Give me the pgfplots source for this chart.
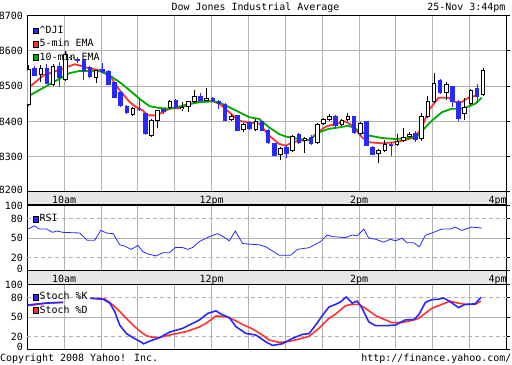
\documentclass[border=0pt]{standalone}
\usepackage{pgfplots}
\pgfplotsset{compat=1.18}
\usepackage{pgfplotstable}
\usepackage{fontspec}
\setmainfont{DejaVu Sans Mono}
\newcommand\yf{\fontsize{10}{12}\selectfont}
\definecolor{yblue}{RGB}{40,40,255}
\definecolor{yred}{RGB}{255,50,50}
\definecolor{ygreen}{RGB}{0,170,0}
\definecolor{ygrid}{RGB}{178,178,178}
\definecolor{yband}{RGB}{230,230,230}

\pgfplotstableread{
t o h l c
1 8447 8561 8445 8549
11 8532 8561 8513 8551
21 8504 8562 8500 8558
31 8518 8600 8515 8590
36 8580 8586 8575 8583
56 8524 8547 8510 8545
86 8419 8440 8414 8437
101 8359 8407 8357 8405
106 8402 8433 8380 8431
116 8438 8461 8436 8459
126 8436 8455 8430 8442
131 8440 8459 8428 8457
136 8456 8490 8452 8473
146 8459 8495 8457 8467
166 8404 8420 8402 8416
176 8376 8396 8370 8393
186 8376 8408 8374 8400
206 8306 8327 8290 8325
216 8315 8362 8313 8360
226 8344 8355 8310 8353
236 8338 8395 8336 8393
241 8393 8409 8391 8407
246 8404 8421 8402 8414
256 8391 8408 8388 8404
261 8404 8424 8402 8415
271 8364 8398 8362 8396
286 8308 8321 8281 8319
291 8315 8346 8313 8336
301 8333 8364 8331 8345
306 8344 8380 8342 8355
311 8355 8369 8353 8364
321 8350 8423 8345 8414
326 8412 8471 8410 8457
331 8455 8537 8453 8510
341 8480 8513 8461 8505
356 8421 8467 8405 8442
361 8448 8492 8446 8490
371 8475 8552 8473 8545
}\upcandles

\pgfplotstableread{
t o h l c
6 8551 8557 8528 8530
16 8552 8562 8505 8507
26 8556 8567 8497 8523
41 8578 8582 8565 8570
46 8573 8576 8516 8542
51 8554 8556 8524 8526
61 8549 8566 8538 8540
66 8543 8545 8502 8504
71 8511 8513 8465 8467
76 8483 8485 8440 8443
81 8445 8447 8421 8423
91 8436 8465 8430 8431
96 8423 8425 8362 8364
111 8434 8436 8420 8426
121 8461 8463 8435 8438
141 8473 8481 8457 8459
151 8467 8469 8455 8457
156 8459 8461 8435 8448
161 8450 8452 8400 8402
171 8417 8419 8372 8374
181 8398 8402 8377 8379
191 8400 8402 8372 8374
196 8376 8378 8336 8338
201 8338 8340 8301 8303
211 8327 8329 8296 8309
221 8363 8367 8336 8338
231 8355 8362 8334 8336
251 8414 8419 8383 8388
266 8414 8416 8364 8366
276 8400 8402 8329 8331
281 8327 8329 8304 8306
296 8335 8341 8301 8331
316 8366 8372 8343 8347
336 8516 8519 8478 8480
346 8499 8501 8442 8456
351 8456 8461 8401 8407
366 8495 8505 8451 8469
}\downcandles

\pgfplotsset{
  ypanel/.style={
    scale only axis, width=479.2bp, xmin=0, xmax=390,
    axis line style={black, line width=1bp},
    xtick={30,60,...,390},
    xmajorgrids, ymajorgrids,
    major grid style={ygrid, line width=1bp},
    tick align=outside,
    xtick style={draw=none, /pgfplots/major tick length=0bp},
    ytick style={black, line width=1bp, /pgfplots/major tick length=3bp},
    ytick pos=right, yticklabel pos=left,
    tick label style={font=\yf},
    yticklabel style={anchor=east, inner sep=0pt, xshift=0bp},
    xticklabel style={anchor=base, inner sep=0pt, yshift=-7bp},
    /pgf/number format/assume math mode=true,
    /pgf/number format/1000 sep={},
    legend image code/.code={\draw[##1, draw=black, line width=0.6bp] (0bp,-2.8bp) rectangle (5.6bp,2.8bp);},
    legend cell align=left,
    legend style={at={(axis description cs:0,1)}, anchor=north west, draw=none, fill=none,
      font=\yf, inner xsep=3.2bp, inner ysep=6bp, row sep=1.2bp, xshift=2bp,
      nodes={inner sep=0.8bp, text height=8bp, text depth=2.5bp}},
  },
  cbar/.style={forget plot, draw=none, mark=none,
    error bars/.cd, y dir=plus, y explicit, error mark=none,
    error bar style={#1}},
}

\begin{document}
\begin{tikzpicture}
\useasboundingbox (0,0) rectangle (512bp,365bp);
\draw[black, line width=1bp, fill=yband] (27.3bp,160bp) rectangle (506.5bp,173bp);
\draw[black, line width=1bp, fill=yband] (27.3bp,80.5bp) rectangle (506.5bp,94bp);

% ---------------- price panel
\begin{axis}[ypanel, at={(27.3bp,173bp)}, anchor=south west, height=176.5bp,
  ymin=8200, ymax=8700, ytick={8200,8300,...,8700},
  yticklabels={\raisebox{4bp}{8200},8300,8400,8500,8600,\raisebox{-8bp}{8700}},
  xticklabels={10am,,,,12pm,,,,2pm,,,,\llap{4pm}},
  legend style={yshift=-3bp}]
\addlegendimage{fill=yblue}
\addlegendentry{\textasciicircum DJI}
\addlegendimage{fill=yred}
\addlegendentry{5-min EMA}
\addlegendimage{fill=ygreen}
\addlegendentry{10-min EMA}
\addplot[forget plot, yred, line width=1.8bp] coordinates {
(2.7,8500)(13,8530)(25.2,8545)(38.7,8562)(50.9,8550)(59,8545)(67.1,8530)(75.2,8488)
(83.3,8455)(88.7,8440)(94.1,8431)(98.1,8417)(104.9,8417)(110.3,8426)(115.7,8436)
(123.8,8438)(131.9,8448)(140.1,8457)(150.9,8457)(156.3,8450)(164.4,8426)(172.5,8402)
(180.6,8396)(188.7,8394)(196.8,8360)(205,8336)(210.4,8331)(215.7,8341)(221.2,8345)
(229.3,8347)(234.7,8364)(242.8,8385)(250.9,8393)(259,8400)(264.4,8388)(272.5,8355)
(277.9,8341)(288.7,8338)(299.6,8341)(310.4,8350)(315.8,8356)(321.2,8383)(326.6,8431)
(334.7,8467)(342.8,8467)(348.2,8455)(353.6,8455)(359,8467)(367.2,8475)};
\addplot[forget plot, ygreen, line width=1.8bp] coordinates {
(2.7,8475)(13,8495)(23.8,8516)(34.6,8537)(42.7,8543)(59,8542)(67.1,8530)(75.2,8511)
(83.3,8488)(91.4,8464)(99.5,8443)(107.6,8438)(115.7,8436)(123.8,8442)(131.9,8450)
(140.1,8454)(150.9,8457)(156.3,8454)(164.4,8440)(172.5,8426)(180.6,8412)(188.7,8407)
(196.8,8383)(205,8364)(210.4,8357)(221.2,8350)(229.3,8347)(237.4,8369)(245.5,8379)
(253.6,8383)(261.6,8388)(269.8,8374)(277.9,8360)(288.7,8353)(299.6,8350)(310.4,8353)
(318.5,8360)(323.9,8383)(329.3,8402)(337.4,8426)(345.5,8436)(353.6,8436)(359,8442)
(364.5,8450)(369.9,8467)};
% wicks
\addplot[cbar={draw=yblue, line width=1bp}]
  table[x=t, y=l, y error plus expr=\thisrow{h}-\thisrow{l}] {\downcandles};
\addplot[cbar={draw=black, line width=1bp}]
  table[x=t, y=l, y error plus expr=\thisrow{h}-\thisrow{l}] {\upcandles};
% bodies
\addplot[cbar={draw=yblue, line width=4.6bp}]
  table[x=t, y=c, y error plus expr=\thisrow{o}-\thisrow{c}] {\downcandles};
\addplot[cbar={draw=black, line width=4.6bp}]
  table[x=t, y=o, y error plus expr=\thisrow{c}-\thisrow{o}] {\upcandles};
\addplot[cbar={draw=white, line width=2.6bp}]
  table[x=t, y expr=\thisrow{o}+2.83, y error plus expr=\thisrow{c}-\thisrow{o}-5.66] {\upcandles};
\end{axis}

% ---------------- RSI panel
\begin{axis}[ypanel, at={(27.3bp,94bp)}, anchor=south west, height=65.5bp,
  ymin=0, ymax=100, ytick={0,50,100},
  yticklabels={\raisebox{5bp}{0},50,\raisebox{-7bp}{100}},
  extra y ticks={20,80}, extra y tick labels={20,80},
  extra y tick style={grid=major, major grid style={ygrid, line width=1bp, dash pattern=on 4bp off 3bp}},
  xticklabels={10am,,,,12pm,,,,2pm,,,,\llap{4pm}},
  legend style={yshift=-1.5bp}]
\addlegendimage{fill=yblue}
\addlegendentry{RSI}
\addplot[forget plot, yblue, line width=0.8bp] coordinates {
(0.3,63.8)(5.7,69)(9.8,64)(15.7,64)(20.6,59)(23.8,61)(29.2,59)(42.7,58)(48.7,47)
(54.9,47)(59.8,62)(64.4,58)(69.8,57)(75.2,40)(79.2,38)(84.6,33)(90.1,39)(94.1,29.5)
(98.2,26)(104.9,23)(110.3,28)(115.7,28)(120.6,36)(126,36)(130.6,33)(134.7,36)
(140.1,45)(148.2,52.5)(154.9,57)(159.5,52.5)(164.4,46)(169.3,61)(175.2,42)(180.6,41)
(188.7,40)(194.1,37)(205,24)(214.4,24)(219.8,33)(229.3,35.6)(238.7,45)(244.1,55)
(248.2,52.5)(259,51)(264.4,55)(268.5,53.6)(273.9,64)(277.9,50)(283.4,48.5)(290.1,44)
(295.5,48.5)(299.6,46)(305,50)(309.1,43)(314.5,43)(319.1,37)(324,54.6)(329.3,58)
(337.4,64)(344.2,64)(348.2,67)(353.6,62)(361.7,67)(365.8,66.4)(369.9,65.4)};
\end{axis}

% ---------------- Stochastic panel
\begin{axis}[ypanel, at={(27.3bp,15.4bp)}, anchor=south west, height=64.6bp,
  ymin=0, ymax=100, ytick={0,50,100},
  yticklabels={\raisebox{5bp}{0},50,\raisebox{-6bp}{100}},
  extra y ticks={20,80}, extra y tick labels={20,80},
  extra y tick style={grid=major, major grid style={ygrid, line width=1bp, dash pattern=on 4bp off 3bp}},
  xticklabels={}, unbounded coords=jump]
\addlegendimage{fill=yblue}
\addlegendentry{Stoch \%K}
\addlegendimage{fill=yred}
\addlegendentry{Stoch \%D}
\addplot[forget plot, yred, line width=1.6bp] coordinates {
(0.3,68)(4.9,69)(15.7,72)(29.2,73)(40,nan)(51.4,79.5)(63,78.5)(69.8,69)(75.2,59)
(80.6,48.4)(86,38)(91.4,29)(96.8,21.5)(102.2,19)(107.6,19)(118.4,23.6)(129.2,27.8)
(140.1,35)(145.5,40.7)(153.6,52)(161.7,51)(167.1,47)(175.2,39)(183.3,32)(191.4,22.6)
(196.8,14.8)(204.9,11.2)(210.4,12)(218.5,15)(229.3,20.5)(237.4,33)(245.5,48.4)
(250.9,55)(259,68)(264.4,70)(269.8,70)(275.2,64)(283.4,52.6)(291.5,46)(296.9,41.7)
(305,42)(313.1,45)(318.5,48.4)(329.3,64)(337.4,70)(344.2,75)(348.2,73)(356.3,70)
(364.4,70)(369.3,75)};
\addplot[forget plot, yblue, line width=1.6bp] coordinates {
(0.3,69)(4.9,70)(15.7,72)(26.5,73)(29.2,73)(40,nan)(51.4,79.5)(61.7,78)(67.1,72)
(71.1,59)(75.2,38)(80.6,25)(86,18.4)(91.4,13)(94.6,9)(99.5,13)(107.6,18.4)(115.7,27)
(126.5,33)(134.7,40.7)(140.1,46)(146.8,56)(153.6,60)(157.6,55)(164.4,49.5)(169.8,35.5)
(177.9,25)(186,22.6)(194.1,12)(199.5,6.5)(207.6,9)(215.8,17.4)(223.9,23.6)(229.3,24.7)
(234.7,38)(240.1,52.6)(245.5,66)(250.9,70)(255,74)(259.6,81.5)(264.4,72)(268.5,75)
(272.5,64)(277.9,43)(283.4,37)(291.5,37)(299.6,38)(307.7,46)(314.5,46.4)(318.5,53.6)
(324,73)(329.3,77.4)(334.7,78)(338.8,80)(344.2,74)(350.9,65)(356.3,70)(364.4,70.7)
(369.3,81)};
\end{axis}

\node[font=\yf, anchor=base, inner sep=0pt] at (255.5bp,354.5bp) {Dow Jones Industrial Average};
\node[font=\yf, anchor=base east, inner sep=0pt] at (505.5bp,354.5bp) {25-Nov 3:44pm};
\node[font=\yf, anchor=base west, inner sep=0pt] at (0bp,3.5bp) {Copyright 2008 Yahoo! Inc.};
\node[font=\yf, anchor=base east, inner sep=0pt] at (511.5bp,3.5bp) {http://finance.yahoo.com/};
\end{tikzpicture}
\end{document}
